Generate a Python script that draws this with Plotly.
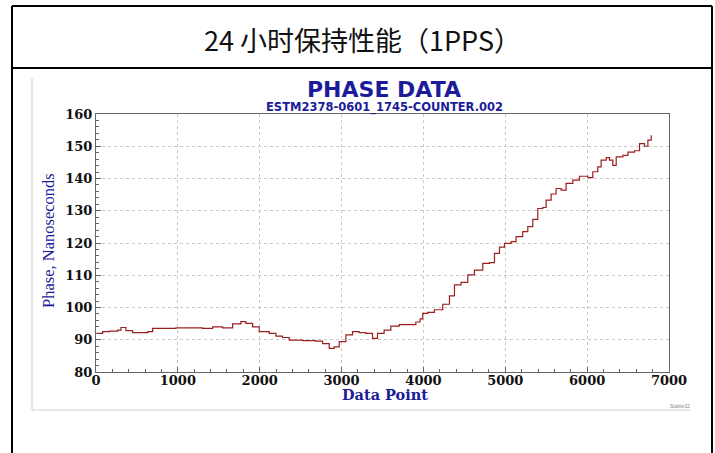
import plotly.graph_objects as go

# ---- data ----
data_point = [0, 20, 81, 163, 265, 305, 366, 448, 529, 631, 692, 814, 977, 1140, 1302, 1425,
              1547, 1669, 1770, 1832, 1913, 1994, 2116, 2198, 2279, 2361, 2523, 2686, 2768,
              2849, 2910, 2971, 3053, 3134, 3215, 3297, 3378, 3439, 3520, 3602, 3704, 3826,
              3907, 3960, 3992, 4053, 4134, 4236, 4318, 4379, 4460, 4542, 4623, 4725, 4807,
              4868, 4929, 4990, 5071, 5132, 5213, 5275, 5336, 5397, 5458, 5499, 5560, 5621,
              5682, 5743, 5825, 5906, 6008, 6069, 6130, 6171, 6233, 6273, 6314, 6355, 6437,
              6498, 6579, 6640, 6701, 6742, 6783]
phase_ns = [92.0, 92.0, 92.5, 92.7, 93.0, 93.8, 92.8, 92.2, 92.2, 92.5, 93.5, 93.5, 93.7, 93.7,
            93.5, 94.0, 93.7, 94.9, 95.6, 95.1, 94.0, 92.5, 92.0, 91.1, 90.7, 89.9, 89.7, 89.6,
            88.8, 87.3, 87.8, 89.4, 91.5, 92.5, 92.2, 92.0, 90.4, 92.0, 93.0, 94.2, 94.7, 94.7,
            95.5, 96.5, 98.2, 98.5, 99.3, 101.0, 103.6, 107.0, 107.8, 110.1, 111.6, 113.7,
            113.9, 116.8, 118.7, 119.9, 120.4, 122.0, 123.5, 125.1, 127.3, 130.7, 131.0,
            133.3, 135.2, 136.9, 136.4, 138.5, 139.5, 140.7, 140.3, 142.1, 143.6, 145.7,
            146.5, 145.7, 144.1, 146.7, 147.2, 148.2, 148.6, 150.8, 150.0, 151.9, 153.4]

x_ticks = [0, 1000, 2000, 3000, 4000, 5000, 6000, 7000]
y_ticks = [80, 90, 100, 110, 120, 130, 140, 150, 160]

page_title = "24 小时保持性能（1PPS）"
chart_title = "PHASE DATA"
chart_subtitle = "ESTM2378-0601_1745-COUNTER.002"
x_label = "Data Point"
y_label = "Phase, Nanoseconds"
footer = "Stable32"

W, H = 715, 453
L, R, T, B = 96, 669, 114, 372  # plot area in pixels


def px(xp):
    return (xp - L) / (R - L)


def py(yp):
    return (B - yp) / (B - T)


NAVY = "#1c1c9a"
fig = go.Figure()
fig.add_trace(go.Scatter(x=data_point, y=phase_ns, mode="lines",
                         line=dict(color="#9a1f1f", width=1.2, shape="hv"),
                         showlegend=False, hoverinfo="skip"))

axis_common = dict(showline=True, linecolor="#666", linewidth=1.2, mirror=True,
                   showgrid=True, gridcolor="#c8c8c8", griddash="dot", gridwidth=1,
                   zeroline=False, ticks="inside", ticklen=5, tickcolor="#666",
                   tickfont=dict(family="DejaVu Serif", size=13, color="#111"))

fig.update_layout(
    width=W, height=H,
    margin=dict(l=L, r=W - R, t=T, b=H - B),
    paper_bgcolor="white", plot_bgcolor="white",
    xaxis=dict(range=[0, 7000], tickvals=x_ticks, ticktext=[f"<b>{v}</b>" for v in x_ticks],
               ticklabelstandoff=-4,
               minor=dict(dtick=200, ticks="inside", ticklen=3, tickcolor="#666", showgrid=False),
               **axis_common),
    yaxis=dict(range=[80, 160], tickvals=y_ticks, ticktext=[f"<b>{v}</b>" for v in y_ticks],
               minor=dict(dtick=2, ticks="inside", ticklen=3, tickcolor="#666", showgrid=False),
               **axis_common),
)

shapes = []
# table borders
blk = dict(color="black", width=2)
shapes.append(dict(type="line", xref="paper", yref="paper", x0=px(12), x1=px(712), y0=py(6), y1=py(6), line=blk))
shapes.append(dict(type="line", xref="paper", yref="paper", x0=px(12), x1=px(712), y0=py(68), y1=py(68), line=blk))
shapes.append(dict(type="line", xref="paper", yref="paper", x0=px(12), x1=px(12), y0=py(6), y1=py(460), line=blk))
shapes.append(dict(type="line", xref="paper", yref="paper", x0=px(712), x1=px(712), y0=py(6), y1=py(460), line=blk))
# embedded picture edges
gry = dict(color="#d0d0d0", width=1)
shapes.append(dict(type="line", xref="paper", yref="paper", x0=px(32), x1=px(32), y0=py(78), y1=py(410), line=gry))
shapes.append(dict(type="line", xref="paper", yref="paper", x0=px(32), x1=px(690), y0=py(410), y1=py(410), line=gry))
fig.update_layout(shapes=shapes)

ann = [
    dict(text=page_title, x=px(362), y=py(40), font=dict(family="Noto Sans CJK SC", size=27, color="#111")),
    dict(text=f"<b>{chart_title}</b>", x=px(384), y=py(89), font=dict(family="DejaVu Sans", size=22, color=NAVY)),
    dict(text=f"<b>{chart_subtitle}</b>", x=px(384), y=py(107.5), font=dict(family="DejaVu Sans", size=11.5, color=NAVY)),
    dict(text=f"<b>{x_label}</b>", x=px(385), y=py(394), font=dict(family="DejaVu Serif", size=14.5, color=NAVY)),
    dict(text=y_label, x=px(48), y=py(241), textangle=-90, font=dict(family="Liberation Serif", size=16.5, color=NAVY)),
    dict(text=footer, x=px(680), y=py(406), font=dict(family="Liberation Sans", size=5, color="#888")),
]
for a in ann:
    a.update(xref="paper", yref="paper", showarrow=False, xanchor="center", yanchor="middle")
fig.update_layout(annotations=ann)

fig.write_html("out.html", config={"displayModeBar": False},
               post_script="document.body.style.margin='0';document.body.style.overflow='hidden';")
